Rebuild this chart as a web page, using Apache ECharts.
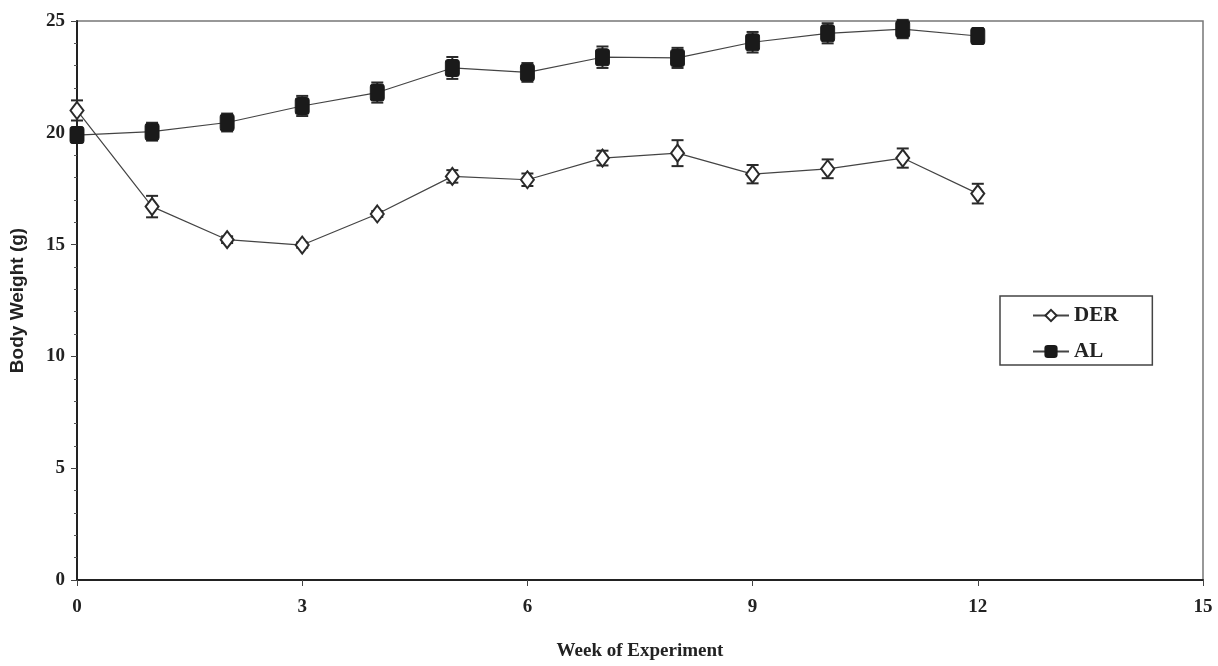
<!DOCTYPE html>
<html>
<head>
<meta charset="utf-8">
<script src="https://cdn.jsdelivr.net/npm/echarts@6/dist/echarts.min.js"></script>
<style>html,body{margin:0;padding:0;background:#fff;}#c{width:1218px;height:666px;}</style>
</head>
<body>
<div id="c"></div>
<script>
var weeks = [0,1,2,3,4,5,6,7,8,9,10,11,12];
var derMean = [21.0,16.7,15.22,14.98,16.37,18.05,17.9,18.87,19.09,18.15,18.39,18.87,17.28];
var derErr  = [0.45,0.48,0.15,0.12,0.13,0.28,0.28,0.33,0.58,0.41,0.42,0.43,0.44];
var alMean  = [19.9,20.05,20.46,21.2,21.8,22.9,22.7,23.38,23.35,24.05,24.45,24.64,24.33];
var alErr   = [0.33,0.40,0.40,0.45,0.45,0.49,0.42,0.48,0.45,0.46,0.45,0.41,0.35];
var xTicks = [0,3,6,9,12,15];
var yTicks = [0,5,10,15,20,25];

function pairs(m){ return weeks.map(function(w,i){ return [w, m[i]]; }); }
function errData(m,e){ return weeks.map(function(w,i){ return [w, m[i]-e[i], m[i]+e[i]]; }); }

function renderErr(params, api){
  var x = api.value(0), lo = api.value(1), hi = api.value(2);
  var p1 = api.coord([x, hi]), p2 = api.coord([x, lo]);
  var w = 6;
  var st = {stroke:'#2a2a2a', lineWidth:2};
  return {type:'group', children:[
    {type:'line', shape:{x1:p1[0],y1:p1[1],x2:p2[0],y2:p2[1]}, style:st},
    {type:'line', shape:{x1:p1[0]-w,y1:p1[1],x2:p1[0]+w,y2:p1[1]}, style:st},
    {type:'line', shape:{x1:p2[0]-w,y1:p2[1],x2:p2[0]+w,y2:p2[1]}, style:st}
  ]};
}

var serif = '"Liberation Serif","Times New Roman",serif';
var squareSym = 'path://M3,0 H11 Q14,0 14,3 V14 Q14,17 11,17 H3 Q0,17 0,14 V3 Q0,0 3,0 Z';
var chart = echarts.init(document.getElementById('c'));
chart.setOption({
  backgroundColor:'#fff',
  animation:false,
  grid:{left:77, top:21, right:15, bottom:85, show:true, borderColor:'#777', borderWidth:1.5, backgroundColor:'transparent'},
  xAxis:{
    type:'value', min:0, max:15, interval:3,
    name:'Week of Experiment', nameLocation:'middle', nameGap:62,
    nameTextStyle:{fontFamily:serif, fontWeight:'bold', fontSize:19, color:'#222'},
    axisLine:{show:true, lineStyle:{color:'#222', width:2}},
    axisTick:{show:true, length:6, lineStyle:{color:'#444', width:1}},
    axisLabel:{fontFamily:serif, fontWeight:'bold', fontSize:19, color:'#222', margin:18,
      formatter:function(v){ return xTicks.indexOf(v)>=0 ? String(v) : ''; }},
    splitLine:{show:false}
  },
  yAxis:{
    type:'value', min:0, max:25, interval:5,
    name:'Body Weight (g)', nameLocation:'middle', nameGap:50,
    nameTextStyle:{fontFamily:'"Liberation Sans",Arial,sans-serif', fontWeight:'bold', fontSize:19, color:'#222'},
    axisLine:{show:true, lineStyle:{color:'#222', width:2}},
    axisTick:{show:true, length:6, lineStyle:{color:'#444', width:1}},
    minorTick:{show:true, splitNumber:5, length:3, lineStyle:{color:'#555', width:1}},
    axisLabel:{fontFamily:serif, fontWeight:'bold', fontSize:19, color:'#222', margin:12,
      formatter:function(v){ return yTicks.indexOf(v)>=0 ? String(v) : ''; }},
    splitLine:{show:false}
  },
  legend:{
    orient:'vertical', left:1000, top:296,
    data:['DER','AL'],
    backgroundColor:'#fff',
    borderColor:'#444', borderWidth:1.5, padding:[9,34,3,32], itemGap:15,
    itemWidth:36, itemHeight:14,
    textStyle:{fontFamily:serif, fontWeight:'bold', fontSize:21, color:'#222'}
  },
  series:[
    {type:'custom', name:'DER err', renderItem:renderErr, data:errData(derMean,derErr), z:2, encode:{x:0,y:[1,2]}, silent:true},
    {type:'custom', name:'AL err', renderItem:renderErr, data:errData(alMean,alErr), z:2, encode:{x:0,y:[1,2]}, silent:true},
    {type:'line', name:'DER', data:pairs(derMean), symbol:'diamond', symbolSize:[13,17], showAllSymbol:true,
      lineStyle:{color:'#444', width:1.2}, itemStyle:{color:'#fff', borderColor:'#2a2a2a', borderWidth:2}, z:3},
    {type:'line', name:'AL', data:pairs(alMean), symbol:squareSym, symbolSize:[14,17], showAllSymbol:true,
      lineStyle:{color:'#444', width:1.2}, itemStyle:{color:'#1a1a1a', borderColor:'#1a1a1a', borderWidth:1}, z:3}
  ]
});
</script>
</body>
</html>
